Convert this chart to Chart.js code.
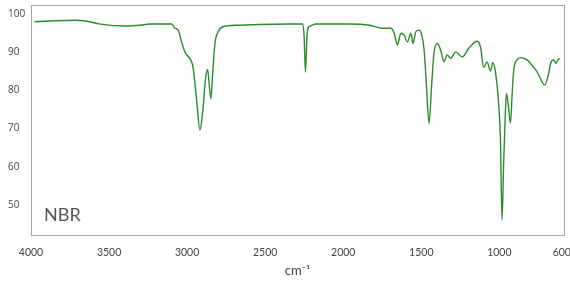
<!DOCTYPE html>
<html>
<head>
<meta charset="utf-8">
<script src="https://cdn.jsdelivr.net/npm/chart.js@4/dist/chart.umd.min.js"></script>
<style>
  html, body { margin: 0; padding: 0; background: #fff; }
  #wrap { width: 570px; height: 281px; position: relative; }
</style>
</head>
<body>
<div id="wrap"><canvas id="c" width="570" height="281"></canvas></div>
<script>
// Wavenumber (cm-1) and transmittance (%)
const wavenumbers = [
  3978, 3876, 3716, 3652, 3556, 3397, 3301, 3237, 3141, 3099,
  3078, 3057, 3035, 3014, 2971, 2961, 2939, 2918, 2899, 2883,
  2869, 2858, 2848, 2835, 2822, 2801, 2770, 2674, 2535, 2344,
  2261, 2251, 2242, 2232, 2223, 2210, 2197, 2178, 2025, 1961,
  1833, 1749, 1695, 1674, 1653, 1631, 1610, 1589, 1567, 1553,
  1535, 1514, 1497, 1482, 1468, 1451, 1433, 1419, 1398, 1376,
  1355, 1334, 1312, 1280, 1238, 1195, 1142, 1121, 1100, 1079,
  1057, 1042, 1025, 1004, 993, 983, 972, 962, 955, 943,
  929, 918, 908, 887, 865, 823, 791, 759, 738, 710,
  689, 668, 653, 638, 625, 615
];
const transmittance = [
  98.0, 98.2, 98.4, 98.2, 97.4, 96.9, 97.1, 97.4, 97.4, 97.4,
  96.3, 95.8, 92.7, 90.1, 87.5, 85.8, 77.5, 69.6, 74.9, 82.7,
  85.5, 81.4, 77.9, 85.3, 92.3, 95.4, 96.7, 97.1, 97.3, 97.4,
  97.4, 94.5, 84.8, 94.5, 96.6, 96.9, 97.1, 97.4, 97.4, 97.4,
  97.1, 96.3, 96.3, 95.0, 91.9, 95.0, 94.5, 92.7, 95.0, 92.3,
  95.4, 95.8, 94.5, 90.6, 81.9, 71.4, 81.9, 89.7, 92.3, 90.6,
  87.5, 89.3, 88.4, 90.1, 88.8, 91.1, 92.9, 91.4, 86.0, 87.5,
  85.1, 87.3, 84.8, 76.2, 67.0, 46.1, 61.8, 73.6, 79.2, 76.2,
  71.4, 79.2, 85.3, 88.0, 88.6, 88.0, 86.6, 84.9, 83.2, 81.4,
  83.6, 87.5, 88.0, 87.1, 88.0, 88.4
];
const xTicks = [4000, 3500, 3000, 2500, 2000, 1500, 1000, 600];
const yTicks = [50, 60, 70, 80, 90, 100];
const sampleLabel = 'NBR';
const xTitle = 'cm\u207B\u00B9';

const points = wavenumbers.map((w, i) => ({ x: w, y: transmittance[i] }));

const framePlugin = {
  id: 'frame',
  afterDraw(chart) {
    const { ctx, chartArea: a } = chart;
    ctx.save();
    ctx.strokeStyle = '#a6a6a6';
    ctx.lineWidth = 1;
    ctx.strokeRect(Math.round(a.left) + 0.5, Math.round(a.top) + 0.5,
                   Math.round(a.right - a.left), Math.round(a.bottom - a.top));
    ctx.fillStyle = '#555';
    ctx.font = '18px Lato, "Noto Sans", sans-serif';
    ctx.textBaseline = 'middle';
    ctx.textAlign = 'left';
    ctx.fillText(sampleLabel, a.left + 13, 215);
    ctx.restore();
  }
};

new Chart(document.getElementById('c'), {
  type: 'line',
  data: {
    datasets: [{
      data: points,
      borderColor: '#2b8c2b',
      borderWidth: 1.4,
      pointRadius: 0,
      fill: false,
      cubicInterpolationMode: 'monotone'
    }]
  },
  options: {
    responsive: false,
    animation: false,
    devicePixelRatio: 1,
    layout: { padding: { left: 8, right: 6, top: 5, bottom: 0 } },
    plugins: { legend: { display: false }, tooltip: { enabled: false } },
    scales: {
      x: {
        type: 'linear',
        reverse: true,
        min: 586,
        max: 4000,
        grid: { display: false, drawTicks: false },
        border: { display: false },
        afterBuildTicks(scale) { scale.ticks = xTicks.map(v => ({ value: v })); },
        afterFit(scale) {
          scale.height = 46;
          scale.paddingLeft = 0;
          scale.paddingRight = 0;
        },
        ticks: {
          autoSkip: false,
          maxRotation: 0,
          padding: 11,
          color: '#444',
          font: { family: 'Lato, "Noto Sans", sans-serif', size: 10.5 },
          callback: v => String(v)
        },
        title: {
          display: true,
          text: xTitle,
          color: '#444',
          padding: { top: 0, bottom: 2 },
          font: { family: 'Lato, "Noto Sans", sans-serif', size: 13 }
        }
      },
      y: {
        min: 42.1,
        max: 102.4,
        grid: { display: false, drawTicks: false },
        border: { display: false },
        afterBuildTicks(scale) { scale.ticks = yTicks.map(v => ({ value: v })); },
        afterFit(scale) {
          scale.width = 23;
          scale.paddingTop = 0;
          scale.paddingBottom = 0;
        },
        ticks: {
          crossAlign: 'far',
          padding: 4,
          color: '#444',
          font: { family: '"Open Sans", "Noto Sans", sans-serif', size: 10 },
          callback: v => String(v)
        }
      }
    }
  },
  plugins: [framePlugin]
});
</script>
</body>
</html>
